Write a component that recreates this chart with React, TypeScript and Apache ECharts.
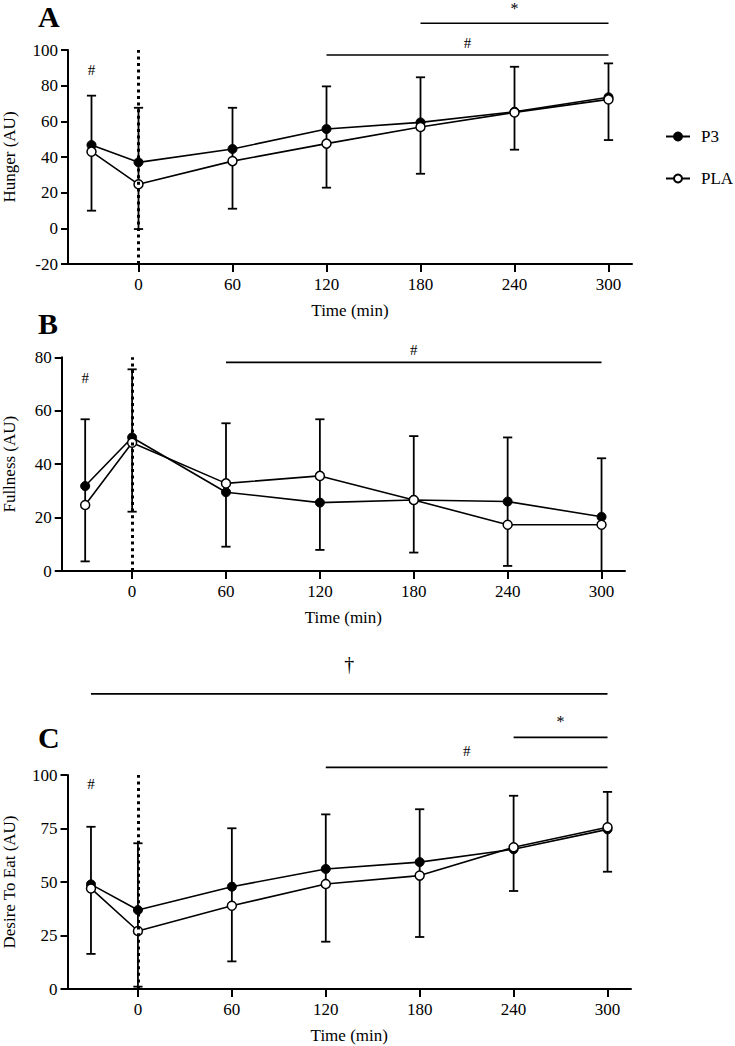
import React, { useEffect, useRef } from 'react';
import * as echarts from 'echarts';

// ---------- data ----------
const timePoints = [-30, 0, 60, 120, 180, 240, 300];
const xTickValues = [0, 60, 120, 180, 240, 300];

const hungerP3 = [46.7, 37, 44.5, 55.7, 59.4, 65.4, 73.5];
const hungerPLA = [43, 24.7, 37.7, 47.5, 56.8, 65, 72.3];
const hungerErrHigh = [74.4, 67.6, 67.6, 79.6, 84.7, 90.6, 92.5];
const hungerErrLow = [9.9, -0.4, 11, 22.8, 30.6, 44.1, 49.5];

const fullnessP3 = [31.8, 50, 29.5, 25.6, 26.6, 26, 20.3];
const fullnessPLA = [24.7, 48, 32.8, 35.6, 26.6, 17.3, 17.3];
const fullnessErrHigh = [56.8, 75.5, 55.3, 56.8, 50.5, 50, 42.2];
const fullnessErrLow = [3.6, 22.2, 9.1, 7.9, 6.9, 1.9, 0];

const desireP3 = [48.9, 36.9, 47.8, 56.1, 59.3, 65.3, 74.6];
const desirePLA = [47, 27.1, 38.9, 49.1, 53, 66.2, 75.6];
const desireErrHigh = [75.8, 68.1, 75.1, 81.6, 84, 90.3, 92.1];
const desireErrLow = [16.4, 1.1, 12.9, 22.1, 24.3, 45.8, 54.8];

// significance bars: [from, to, level]
const hungerBars = [[180, 300, 115], [120, 300, 97.2]];
const fullnessBars = [[60, 300, 78.1]];
const desireBars = [[-30, 300, 137.9], [240, 300, 117.6], [120, 300, 103.6]];

// significance symbols
const hungerMarks = [{ x: 240, y: 123.5, text: '*' }, { x: 210, y: 104, text: '#' }, { x: -30, y: 88.8, text: '#' }];
const fullnessMarks = [{ x: 180, y: 82.6, text: '#' }, { x: -30, y: 72.3, text: '#' }];
const desireMarks = [
  { x: 135, y: 151.9, text: '†' },
  { x: 270, y: 124.8, text: '*' },
  { x: 210, y: 111, text: '#' },
  { x: -30, y: 95.6, text: '#' },
];

const panelLetters = ['A', 'B', 'C'];
const yTitles = ['Hunger (AU)', 'Fullness (AU)', 'Desire To Eat (AU)'];
const xTitle = 'Time (min)';
const seriesNames = ['P3', 'PLA'];

// ---------- style ----------
const FONT = 'Liberation Serif';

const App: React.FC = () => {
  const ref = useRef<HTMLDivElement>(null);

  useEffect(() => {
    if (!ref.current) return;
    const chart = echarts.init(ref.current, undefined, { renderer: 'svg' });

    const panels = [
      { p3: hungerP3, pla: hungerPLA, hi: hungerErrHigh, lo: hungerErrLow, bars: hungerBars, marks: hungerMarks, ymin: -20, ymax: 100, yint: 20, nameGap: 50 },
      { p3: fullnessP3, pla: fullnessPLA, hi: fullnessErrHigh, lo: fullnessErrLow, bars: fullnessBars, marks: fullnessMarks, ymin: 0, ymax: 80, yint: 20, nameGap: 44 },
      { p3: desireP3, pla: desirePLA, hi: desireErrHigh, lo: desireErrLow, bars: desireBars, marks: desireMarks, ymin: 0, ymax: 100, yint: 25, nameGap: 50 },
    ];

    const grids = [
      { left: 68, top: 50, width: 564, height: 214, outerBoundsMode: 'none', containLabel: false },
      { left: 61.7, top: 357.3, width: 563.3, height: 213.7, outerBoundsMode: 'none', containLabel: false },
      { left: 67.5, top: 775, width: 563.5, height: 214, outerBoundsMode: 'none', containLabel: false },
    ];

    const axisLine = { show: true, onZero: false, lineStyle: { color: '#000', width: 2 } };

    const xAxes = grids.map((_, i) => ({
      type: 'value',
      gridIndex: i,
      min: -45,
      max: 315,
      name: xTitle,
      nameLocation: 'middle',
      nameGap: 38,
      nameTextStyle: { fontFamily: FONT, fontSize: 17, color: '#000' },
      axisLine,
      axisTick: { show: true, length: 8, customValues: xTickValues, lineStyle: { color: '#000', width: 2 } },
      axisLabel: { customValues: xTickValues, fontFamily: FONT, fontSize: 17, color: '#000', margin: 12 },
      splitLine: { show: false },
    }));

    const yAxes = panels.map((p, i) => ({
      type: 'value',
      gridIndex: i,
      min: p.ymin,
      max: p.ymax,
      interval: p.yint,
      name: yTitles[i],
      nameLocation: 'middle',
      nameGap: p.nameGap,
      nameTextStyle: { fontFamily: FONT, fontSize: 17, color: '#000' },
      axisLine,
      axisTick: { show: true, length: 7, lineStyle: { color: '#000', width: 2 } },
      axisLabel: { fontFamily: FONT, fontSize: 17, color: '#000', margin: 10 },
      splitLine: { show: false },
    }));

    const series: any[] = [];
    panels.forEach((p, i) => {
      // error bars
      series.push({
        type: 'custom',
        xAxisIndex: i,
        yAxisIndex: i,
        z: 1,
        silent: true,
        data: timePoints.map((t, k) => [t, p.lo[k], p.hi[k]]),
        encode: { x: 0, y: [1, 2] },
        renderItem: (params: any, api: any) => {
          const x = api.value(0);
          const lo = api.coord([x, api.value(1)]);
          const hi = api.coord([x, api.value(2)]);
          const half = 4.6;
          const style = { stroke: '#000', lineWidth: 1.8 };
          return {
            type: 'group',
            children: [
              { type: 'line', shape: { x1: lo[0], y1: lo[1], x2: hi[0], y2: hi[1] }, style },
              { type: 'line', shape: { x1: hi[0] - half, y1: hi[1], x2: hi[0] + half, y2: hi[1] }, style },
              { type: 'line', shape: { x1: lo[0] - half, y1: lo[1], x2: lo[0] + half, y2: lo[1] }, style },
            ],
          };
        },
      });
      // P3
      series.push({
        type: 'line',
        name: seriesNames[0],
        xAxisIndex: i,
        yAxisIndex: i,
        z: 3,
        data: timePoints.map((t, k) => [t, p.p3[k]]),
        symbol: 'circle',
        symbolSize: 9,
        lineStyle: { color: '#000', width: 1.6 },
        itemStyle: { color: '#000', borderColor: '#000', borderWidth: 1 },
        markLine: {
          silent: true,
          symbol: 'none',
          label: { show: false },
          lineStyle: { color: '#000', width: 3, type: [3, 3.6] },
          data: [{ xAxis: 0 }],
        },
      });
      // PLA
      series.push({
        type: 'line',
        name: seriesNames[1],
        xAxisIndex: i,
        yAxisIndex: i,
        z: 4,
        data: timePoints.map((t, k) => [t, p.pla[k]]),
        symbol: 'circle',
        symbolSize: 9,
        lineStyle: { color: '#000', width: 1.6 },
        itemStyle: { color: '#fff', borderColor: '#000', borderWidth: 1.5 },
      });
      // significance bars
      series.push({
        type: 'custom',
        xAxisIndex: i,
        yAxisIndex: i,
        z: 5,
        silent: true,
        clip: false,
        data: p.bars,
        encode: { x: [0, 1], y: 2 },
        renderItem: (params: any, api: any) => {
          const a = api.coord([api.value(0), api.value(2)]);
          const b = api.coord([api.value(1), api.value(2)]);
          return {
            type: 'line',
            shape: { x1: a[0], y1: a[1], x2: b[0], y2: b[1] },
            style: { stroke: '#000', lineWidth: 1.7 },
          };
        },
      });
      // significance symbols
      const marks = p.marks;
      series.push({
        type: 'custom',
        xAxisIndex: i,
        yAxisIndex: i,
        z: 5,
        silent: true,
        clip: false,
        data: marks.map((m) => [m.x, m.y]),
        encode: { x: 0, y: 1 },
        renderItem: (params: any, api: any) => {
          const m = marks[params.dataIndex];
          const pt = api.coord([api.value(0), api.value(1)]);
          const size = m.text === '†' ? 20 : m.text === '*' ? 16 : 15;
          return {
            type: 'text',
            x: pt[0],
            y: pt[1],
            style: {
              text: m.text,
              fontFamily: FONT,
              fontSize: size,
              fill: '#000',
              align: 'center',
              verticalAlign: 'middle',
            },
          };
        },
      });
    });

    const letterY = [16, 323, 737.5];

    chart.setOption({
      animation: false,
      backgroundColor: '#fff',
      grid: grids,
      xAxis: xAxes,
      yAxis: yAxes,
      legend: {
        data: seriesNames,
        orient: 'vertical',
        left: 665,
        top: 128,
        padding: 0,
        itemWidth: 24,
        itemHeight: 10,
        itemGap: 25,
        selectedMode: false,
        textStyle: { fontFamily: FONT, fontSize: 17, color: '#000', padding: [0, 0, 0, 6] },
      },
      graphic: panelLetters.map((l, i) => ({
        type: 'text',
        x: 38,
        y: letterY[i],
        style: {
          text: l,
          fontFamily: FONT,
          fontWeight: 'bold',
          fontSize: 30,
          fill: '#000',
          align: 'left',
          verticalAlign: 'middle',
        },
      })),
      series,
    });

    return () => chart.dispose();
  }, []);

  return (
    <div
      ref={ref}
      style={{ position: 'absolute', left: 0, top: 0, width: 735, height: 1046, background: '#fff' }}
    />
  );
};

export default App;
